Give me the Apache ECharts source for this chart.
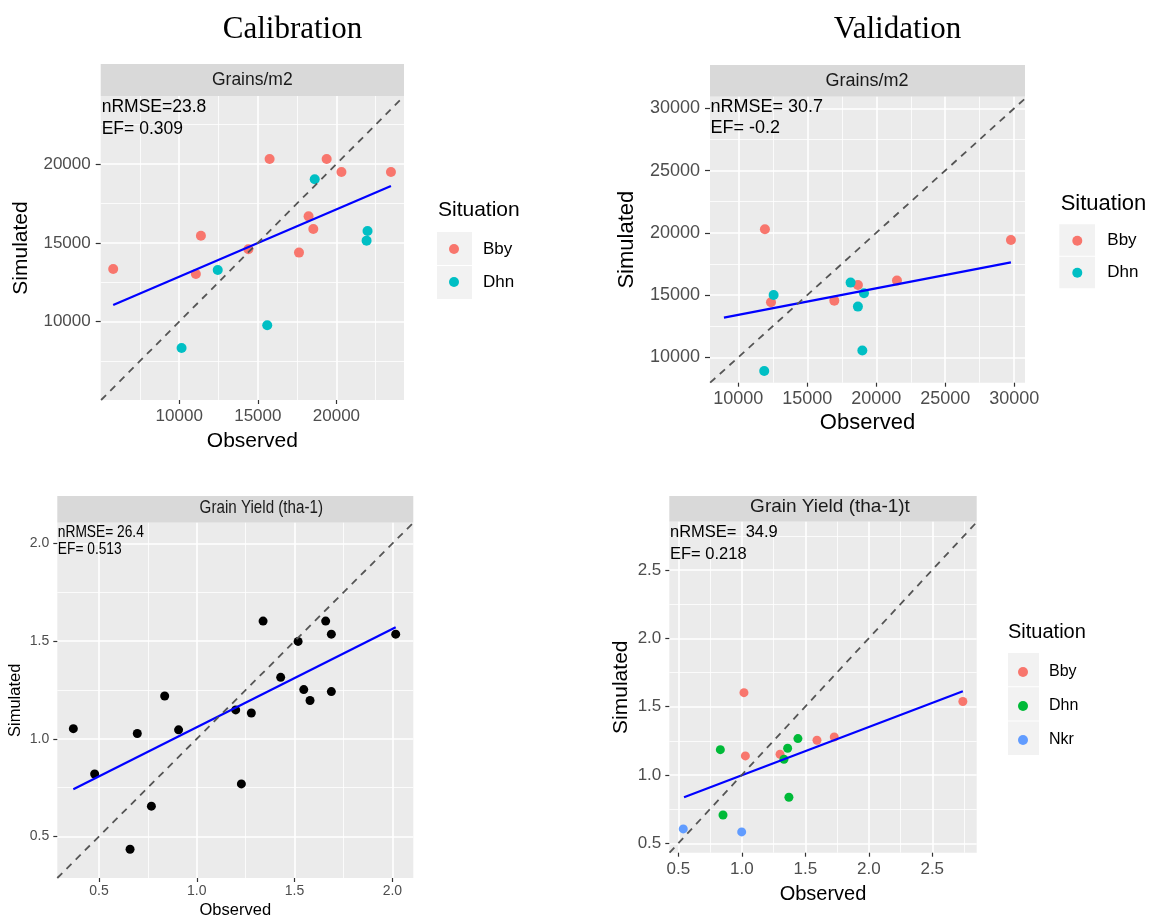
<!DOCTYPE html>
<html><head><meta charset="utf-8">
<script src="https://cdn.jsdelivr.net/npm/echarts@6/dist/echarts.min.js"></script>
<style>html,body{margin:0;padding:0;background:#fff}#c{width:1150px;height:920px}</style>
</head><body><div id="c"></div>
<script>
// ---------- DATA ----------
// Panel 1: Calibration, Grains/m2
const p1ObsBby = [5800, 11060, 11380, 14400, 15750, 17620, 18230, 18530, 19380, 20320, 23470];
const p1SimBby = [13340, 13020, 15450, 14590, 20320, 14380, 16680, 15880, 20320, 19490, 19490];
const p1ObsDhn = [10150, 12450, 15600, 18620, 21980, 21920];
const p1SimDhn = [8330, 13280, 9770, 19030, 15750, 15140];
const p1FitObs = [5800, 23470];
const p1FitSim = [11060, 18600];
const p1XLim = [5005, 24300];
const p1YLim = [5030, 24315];
const p1Ticks = [10000, 15000, 20000];

// Panel 2: Validation, Grains/m2
const p2ObsBby = [11930, 12370, 16960, 18670, 21500, 29760];
const p2SimBby = [20280, 14420, 14550, 15810, 16160, 19420];
const p2ObsDhn = [11880, 12560, 18140, 18670, 19110, 18990];
const p2SimDhn = [8900, 15010, 16000, 14070, 15140, 10540];
const p2FitObs = [8960, 29760];
const p2FitSim = [13190, 17630];
const p2XLim = [7950, 30780];
const p2YLim = [7960, 30930];
const p2Ticks = [10000, 15000, 20000, 25000, 30000];

// Panel 3: Calibration, Grain Yield
const p3Obs = [0.369, 0.478, 0.659, 0.696, 0.768, 0.836, 0.907, 1.199, 1.228, 1.279, 1.339, 1.429, 1.518, 1.547, 1.579, 1.659, 1.688, 1.688, 2.017];
const p3Sim = [1.052, 0.820, 0.434, 1.027, 0.655, 1.219, 1.046, 1.148, 0.769, 1.132, 1.603, 1.315, 1.499, 1.252, 1.196, 1.603, 1.536, 1.242, 1.536];
const p3FitObs = [0.369, 2.017];
const p3FitSim = [0.742, 1.572];
const p3Lim = [0.287, 2.107];
const p3Ticks = [0.5, 1.0, 1.5, 2.0];

// Panel 4: Validation, Grain Yield
const p4ObsBby = [1.017, 1.028, 1.301, 1.592, 1.728, 2.741];
const p4SimBby = [1.602, 1.139, 1.151, 1.254, 1.278, 1.537];
const p4ObsDhn = [0.831, 0.852, 1.332, 1.361, 1.442, 1.371];
const p4SimDhn = [1.185, 0.707, 1.115, 1.195, 1.266, 0.837];
const p4ObsNkr = [0.539, 0.999];
const p4SimNkr = [0.605, 0.583];
const p4FitObs = [0.545, 2.741];
const p4FitSim = [0.837, 1.612];
const p4XLim = [0.429, 2.85];
const p4YLim = [0.431, 2.853];
const p4Ticks = [0.5, 1.0, 1.5, 2.0, 2.5];

// ---------- STYLE ----------
const SANS = "'Liberation Sans', Arial, sans-serif";
const SERIF = "'Liberation Serif', 'Times New Roman', serif";
const RED = '#F8766D', CYAN = '#00BFC4', GREEN = '#00BA38', BLUE = '#619CFF';

const zip = (a, b) => a.map((v, i) => [v, b[i]]);

const grids = [
  {left: 100.7, top: 96, width: 303.3, height: 304},
  {left: 710, top: 96.7, width: 315, height: 286},
  {left: 57.3, top: 522.7, width: 356, height: 355.6},
  {left: 669.3, top: 521.7, width: 307.4, height: 331}
].map(g => Object.assign(g, {show: true, backgroundColor: '#EBEBEB', borderWidth: 0, containLabel: false}));

function axis(kind, gi, lim, ticks, o) {
  return {
    type: 'value', gridIndex: gi, min: lim[0], max: lim[1], splitNumber: 4,
    name: kind === 'x' ? 'Observed' : 'Simulated',
    nameLocation: 'middle', nameGap: o.nameGap, nameRotate: kind === 'x' ? 0 : 90,
    nameTextStyle: {fontFamily: SANS, fontSize: o.nameSize, color: '#000'},
    axisLine: {show: false, onZero: false},
    axisTick: {show: true, length: o.tickLen, lineStyle: {color: '#333', width: 1.2}, customValues: ticks},
    axisLabel: {show: true, customValues: ticks, margin: o.margin, fontFamily: SANS, fontSize: o.labelSize,
      color: '#4D4D4D', formatter: v => o.dec ? Number(v).toFixed(o.dec) : String(Math.round(v))},
    splitLine: {show: true, lineStyle: {color: '#fff', width: 1.6}},
    minorTick: {show: false, splitNumber: 2},
    minorSplitLine: {show: true, lineStyle: {color: '#fff', width: 0.8}}
  };
}

const xAxes = [
  axis('x', 0, p1XLim, p1Ticks, {labelSize: 17, nameSize: 21, margin: 8, nameGap: 31, tickLen: 4}),
  axis('x', 1, p2XLim, p2Ticks, {labelSize: 18, nameSize: 22, margin: 7, nameGap: 29, tickLen: 4}),
  axis('x', 2, p3Lim, p3Ticks, {labelSize: 14, nameSize: 16.5, margin: 6.5, nameGap: 24, tickLen: 4, dec: 1}),
  axis('x', 3, p4XLim, p4Ticks, {labelSize: 17, nameSize: 20, margin: 8, nameGap: 32, tickLen: 4, dec: 1})
];
const yAxes = [
  axis('y', 0, p1YLim, p1Ticks, {labelSize: 17, nameSize: 21, margin: 10, nameGap: 69, tickLen: 5}),
  axis('y', 1, p2YLim, p2Ticks, {labelSize: 18, nameSize: 22, margin: 10, nameGap: 72, tickLen: 5}),
  axis('y', 2, p3Lim, p3Ticks, {labelSize: 14, nameSize: 16.5, margin: 8, nameGap: 33, tickLen: 4, dec: 1}),
  axis('y', 3, p4YLim, p4Ticks, {labelSize: 17, nameSize: 21, margin: 8, nameGap: 38, tickLen: 4, dec: 1})
];

function scatter(name, gi, obs, sim, color, size) {
  return {type: 'scatter', name, xAxisIndex: gi, yAxisIndex: gi, data: zip(obs, sim),
    symbol: 'circle', symbolSize: size, itemStyle: {color, opacity: 1}, z: 3, silent: true};
}
function fit(gi, obs, sim) {
  return {type: 'line', xAxisIndex: gi, yAxisIndex: gi, data: zip(obs, sim), symbol: 'none',
    lineStyle: {color: '#0000FF', width: 2.2}, z: 4, silent: true};
}
function oneToOne(gi, xl, yl) {
  const lo = Math.max(xl[0], yl[0]), hi = Math.min(xl[1], yl[1]);
  return {type: 'line', xAxisIndex: gi, yAxisIndex: gi, data: [[lo, lo], [hi, hi]], symbol: 'none',
    lineStyle: {color: '#555555', width: 1.8, type: [7, 6]}, z: 5, silent: true};
}

const series = [
  scatter('Bby', 0, p1ObsBby, p1SimBby, RED, 10),
  scatter('Dhn', 0, p1ObsDhn, p1SimDhn, CYAN, 10),
  fit(0, p1FitObs, p1FitSim), oneToOne(0, p1XLim, p1YLim),
  scatter('Bby', 1, p2ObsBby, p2SimBby, RED, 10),
  scatter('Dhn', 1, p2ObsDhn, p2SimDhn, CYAN, 10),
  fit(1, p2FitObs, p2FitSim), oneToOne(1, p2XLim, p2YLim),
  scatter('Yield', 2, p3Obs, p3Sim, '#000000', 9),
  fit(2, p3FitObs, p3FitSim), oneToOne(2, p3Lim, p3Lim),
  scatter('Bby', 3, p4ObsBby, p4SimBby, RED, 9),
  scatter('Dhn', 3, p4ObsDhn, p4SimDhn, GREEN, 9),
  scatter('Nkr', 3, p4ObsNkr, p4SimNkr, BLUE, 9),
  fit(3, p4FitObs, p4FitSim), oneToOne(3, p4XLim, p4YLim)
];

function legend(left, top, itemWidth, gap, fontSize, items) {
  return {orient: 'vertical', left, top, padding: 0, itemWidth, itemHeight: 10, itemGap: gap,
    icon: 'circle', selectedMode: false,
    textStyle: {fontFamily: SANS, fontSize, color: '#000', lineHeight: 20},
    data: items.map(([name, color]) => ({name, itemStyle: {color}}))};
}
const legends = [
  legend(449, 239, 48, 13, 17, [['Bby', RED], ['Dhn', CYAN]]),
  legend(1072.3, 230.7, 50, 12, 17, [['Bby', RED], ['Dhn', CYAN]]),
  legend(1018, 662, 42, 14, 16, [['Bby', RED], ['Dhn', GREEN], ['Nkr', BLUE]])
];

function txt(text, x, y, size, fill, align, sx) {
  return {type: 'text', x, y, z: 100, silent: true, scaleX: sx || 1,
    style: {text, fontSize: size, fontFamily: SANS, fill: fill || '#000', align: align || 'left', verticalAlign: 'middle'}};
}
function serifTxt(text, x, y) {
  return {type: 'text', x, y, z: 100, silent: true,
    style: {text, fontSize: 31, fontFamily: SERIF, fill: '#000', align: 'center', verticalAlign: 'middle'}};
}
function rect(x, y, w, h, fill) {
  return {type: 'rect', z: -1, silent: true, shape: {x, y, width: w, height: h}, style: {fill}};
}

const graphics = [
  serifTxt('Calibration', 292.5, 30),
  serifTxt('Validation', 897.5, 30),
  // strip headers
  rect(100.7, 64, 303.3, 32, '#D9D9D9'), txt('Grains/m2', 252.3, 80.5, 17.5, '#1A1A1A', 'center'),
  rect(710, 65, 315, 31.7, '#D9D9D9'), txt('Grains/m2', 867, 81.5, 18, '#1A1A1A', 'center'),
  rect(57.3, 496, 356, 26.7, '#D9D9D9'), txt('Grain Yield (tha-1)', 261.3, 507.5, 18.5, '#1A1A1A', 'center', 0.82),
  rect(669.3, 496, 307.4, 25.7, '#D9D9D9'), txt('Grain Yield (tha-1)t', 830, 507, 19, '#1A1A1A', 'center'),
  // annotations
  txt('nRMSE=23.8', 101.7, 106.7, 17.5), txt('EF= 0.309', 101.7, 129, 17.5),
  txt('nRMSE= 30.7', 710.5, 107.3, 18), txt('EF= -0.2', 710.5, 128.3, 18),
  txt('nRMSE= 26.4', 57.8, 532.3, 16.8, '#000', 'left', 0.82), txt('EF= 0.513', 57.8, 549.3, 16.8, '#000', 'left', 0.82),
  txt('nRMSE=  34.9', 670, 532.3, 16.5), txt('EF= 0.218', 670, 554, 16.5),
  // legend titles
  txt('Situation', 438, 210, 21), txt('Situation', 1060.7, 204, 22), txt('Situation', 1008, 632, 20),
  // legend key backgrounds
  rect(437, 232, 35, 33, '#F2F2F2'), rect(437, 266, 35, 33, '#F2F2F2'),
  rect(1059.3, 224.3, 35.7, 31.5, '#F2F2F2'), rect(1059.3, 256.8, 35.7, 31.5, '#F2F2F2'),
  rect(1008, 653, 31, 33.3, '#F2F2F2'), rect(1008, 687.3, 31, 33.3, '#F2F2F2'), rect(1008, 721.6, 31, 33.4, '#F2F2F2')
];

const chart = echarts.init(document.getElementById('c'), null, {renderer: 'canvas'});
chart.setOption({
  animation: false,
  backgroundColor: '#fff',
  grid: grids,
  xAxis: xAxes,
  yAxis: yAxes,
  legend: legends,
  graphic: graphics,
  series
});
</script></body></html>
